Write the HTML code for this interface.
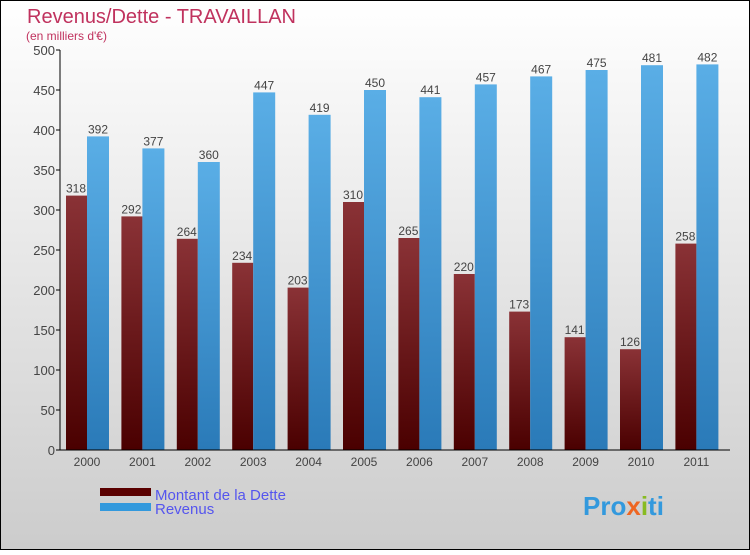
<!DOCTYPE html>
<html><head><meta charset="utf-8"><style>
body{margin:0}
#c{width:750px;height:550px;position:relative;font-family:"Liberation Sans",sans-serif;}
</style></head><body>
<div id="c">
<svg id="s" width="750" height="550" xmlns="http://www.w3.org/2000/svg">
<defs>
<linearGradient id="bg" x1="0" y1="0" x2="0" y2="1"><stop offset="0" stop-color="#ffffff"/><stop offset="1" stop-color="#cccccc"/></linearGradient>
<linearGradient id="rd" x1="0" y1="0" x2="0" y2="1"><stop offset="0" stop-color="#8a3236"/><stop offset="1" stop-color="#4a0000"/></linearGradient>
<linearGradient id="bl" x1="0" y1="0" x2="0" y2="1"><stop offset="0" stop-color="#5aaee6"/><stop offset="1" stop-color="#2a7ab8"/></linearGradient>
</defs>
<rect x="0.5" y="0.5" width="749" height="549" fill="url(#bg)" stroke="#000"/>
<text x="27" y="23" font-size="20" fill="#c0325e">Revenus/Dette - TRAVAILLAN</text>
<text x="26" y="40" font-size="12" fill="#c0325e">(en milliers d'€)</text>
<g id="g"></g>
<rect x="100" y="488" width="51" height="8" fill="#5a0000"/>
<text x="155" y="500" font-size="15" fill="#5555ee">Montant de la Dette</text>
<rect x="100" y="503" width="51" height="8" fill="#3399dd"/>
<text x="155" y="514" font-size="15" fill="#5555ee">Revenus</text>
<text x="583" y="515" font-size="26" font-weight="bold" fill="#3399dd">Pro<tspan fill="#ee6622">x</tspan><tspan fill="#88bb22">i</tspan>ti</text>
</svg>
</div>
<script>
const years=["2000","2001","2002","2003","2004","2005","2006","2007","2008","2009","2010","2011"];
const dette=[318,292,264,234,203,310,265,220,173,141,126,258];
const revenus=[392,377,360,447,419,450,441,457,467,475,481,482];
const yTicks=[0,50,100,150,200,250,300,350,400,450,500];
const NS="http://www.w3.org/2000/svg";
const g=document.getElementById('g');
const y=v=>450-v*0.8;
const x0=i=>66+55.4*i;
function mk(t,a){const e=document.createElementNS(NS,t);for(const k in a)e.setAttribute(k,a[k]);g.appendChild(e);return e;}
yTicks.forEach(t=>{
 const l=mk('line',{x1:56,x2:60,y1:y(t),y2:y(t),stroke:'#000'});
 
 
 const tx=mk('text',{x:55,y:y(t)+5,'font-size':13,'text-anchor':'end',fill:'#444'});tx.textContent=t;
 
 
});
years.forEach((yr,i)=>{
 const r=mk('rect',{x:x0(i),y:y(dette[i]),width:21,height:dette[i]*0.8,fill:'url(#rd)'});
 
 
 const b=mk('rect',{x:x0(i)+21,y:y(revenus[i]),width:22,height:revenus[i]*0.8,fill:'url(#bl)'});
 
 
 const t1=mk('text',{x:x0(i)+10,y:y(dette[i])-3,'font-size':12,'text-anchor':'middle',fill:'#444'});t1.textContent=dette[i];
 
 
 const t2=mk('text',{x:x0(i)+32,y:y(revenus[i])-3,'font-size':12,'text-anchor':'middle',fill:'#444'});t2.textContent=revenus[i];
 
 
 const tx=mk('text',{x:x0(i)+21,y:466,'font-size':12,'text-anchor':'middle',fill:'#444'});tx.textContent=yr;
 
 
});
const ya=mk('line',{x1:60,x2:60,y1:50,y2:450,stroke:'#000'});


const xa=mk('line',{x1:56,x2:730,y1:450,y2:450,stroke:'#000'});


</script>
</body></html>
